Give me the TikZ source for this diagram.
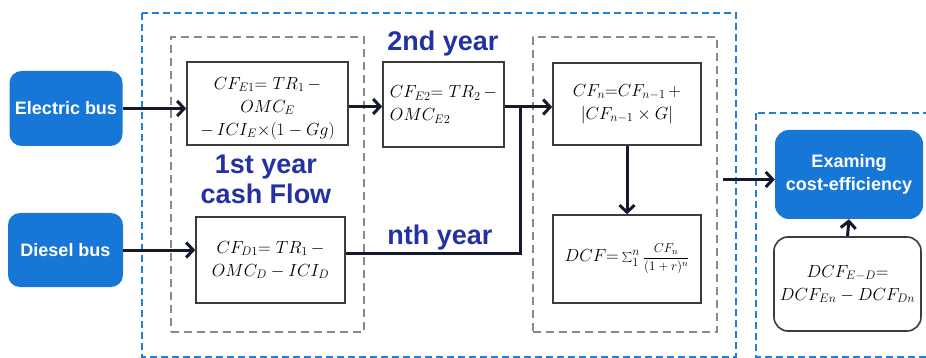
\RequirePackage{fix-cm}
\documentclass[tikz,border=0pt]{standalone}
\usepackage{fontspec}
\setsansfont{Liberation Sans}
\usetikzlibrary{arrows.meta,calc}
\definecolor{busblue}{HTML}{1677D6}
\definecolor{lblblue}{HTML}{2431A3}
\definecolor{dashblue}{HTML}{1F7FDB}
\definecolor{dashgray}{HTML}{8A8A8A}
\definecolor{boxline}{HTML}{3C3C3C}
\definecolor{arrcol}{HTML}{141A2B}
\tikzset{
  bus/.style={fill=busblue, draw=none, rounded corners=12pt, text=white,
    font=\sffamily\bfseries\fontsize{18}{23}\selectfont, align=center, inner sep=0pt},
  fbox/.style={draw=boxline, line width=1.6pt, fill=white, align=center,
    font=\fontsize{17.5}{23}\selectfont, inner sep=0pt},
  lbl/.style={text=lblblue, font=\sffamily\bfseries\fontsize{27}{30}\selectfont, align=center, inner sep=0pt},
  gbox/.style={draw=dashgray, line width=2pt, dash pattern=on 8pt off 5pt, inner sep=0pt},
  bbox/.style={draw=dashblue, line width=2pt, dash pattern=on 7pt off 4pt},
  arr/.style={draw=arrcol, line width=3pt, -{Straight Barb[length=7pt,width=15pt]}},
  conn/.style={draw=arrcol, line width=3pt}
}
\begin{document}
\begin{tikzpicture}[x=1pt,y=-1pt]
\useasboundingbox (0,0) rectangle (926,358);
\clip (0,0) rectangle (926,358);
% outer dashed boxes
\draw[bbox] (142,13) rectangle (736,357);
\draw[bbox] (756,113) rectangle (940,357);
% gray groups
\node[gbox, minimum width=193pt, minimum height=295pt] (g1) at (267.5,184.5) {};
\node[gbox, minimum width=184pt, minimum height=295pt] (g2) at (625,184.5) {};
% bus nodes
\node[bus, minimum width=113pt, minimum height=75pt] (eb) at (66,108.5) {Electric bus};
\node[bus, minimum width=115pt, minimum height=74pt] (db) at (65.5,250) {Diesel bus};
% formula boxes
\node[fbox, minimum width=161pt, minimum height=83pt] (e1) at (267.5,103.5)
  {\rule{0pt}{22pt}$CF_{E1}$= $TR_1\,-$\\ $OMC_E$\\ $-\,ICI_E{\times}(1-Gg)$};
\node[fbox, minimum width=149pt, minimum height=86pt] (d1) at (270.5,260)
  {$CF_{D1}$= $TR_1\,-$\\ $OMC_D-ICI_D$};
\node[fbox, minimum width=121pt, minimum height=85pt, align=left] (e2) at (443.5,104.5)
  {$CF_{E2}$= $TR_2\,-$\\ $OMC_{E2}$};
\node[fbox, minimum width=148pt, minimum height=82pt] (cfn) at (627,104)
  {$CF_n{=}CF_{n-1}\,+$\\ $|CF_{n-1}\times G|$};
\node[fbox, minimum width=148pt, minimum height=88pt] (dcf) at (627,259)
  {$DCF{=}\sum_1^n$\,{\fontsize{13}{15}\selectfont$\displaystyle\frac{CF_n}{(1+r)^n}$}};
\node[bus, minimum width=148pt, minimum height=89pt, rounded corners=14pt] (ex) at (849,174.5)
  {Examing\\cost-efficiency};
\node[fbox, rounded corners=14pt, minimum width=147pt, minimum height=94pt] (ed) at (847.5,284)
  {$DCF_{E-D}$=\\ $DCF_{En}-DCF_{Dn}$};
% labels
\node[lbl] (l2) at (443,44) {2nd year};
\node[lbl] (l1) at (266,179) {1st year\\cash Flow};
\node[lbl] (ln) at (440,238) {nth year};
% connectors
\draw[arr] (eb.east) -- (eb.east -| e1.west);
\draw[arr] ([yshift=-3pt]e1.east) -- ([yshift=-3pt]e1.east -| e2.west);
\draw[arr] ([yshift=-2.5pt]e2.east) coordinate (e2o) -- (e2o -| cfn.west);
\coordinate (j) at ($(e2o)+(16,0)$);
\draw[conn] ([yshift=7pt]d1.east) -| (j);
\draw[arr] (db.east) -- (db.east -| d1.west);
\draw[arr] (cfn.south) -- (dcf.north);
\coordinate (exa) at ([yshift=-5pt]ex.west);
\draw[arr] ($(g2.east |- exa)+(5,0)$) -- (exa);
\draw[arr] (ed.north) -- (ex.south);
\end{tikzpicture}
\end{document}
